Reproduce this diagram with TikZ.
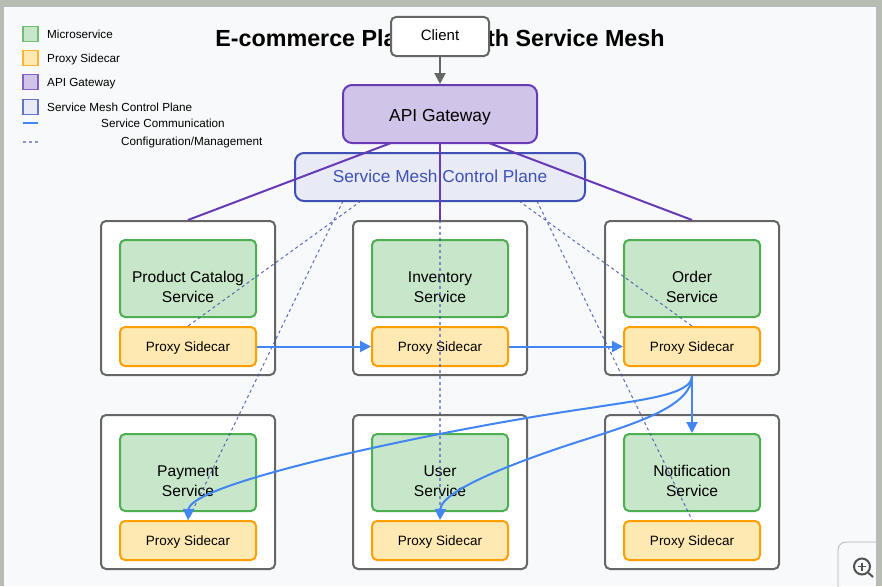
\documentclass[tikz,border=0pt]{standalone}
\usepackage{fontspec}
\setmainfont{Liberation Sans}
\usetikzlibrary{arrows.meta}

\definecolor{frame}{HTML}{B8BDB3}
\definecolor{page}{HTML}{F8F9FA}
\definecolor{edge}{HTML}{666666}
\definecolor{micro}{HTML}{C8E6C9}
\definecolor{microedge}{HTML}{4CAF50}
\definecolor{proxy}{HTML}{FFE9B3}
\definecolor{proxyedge}{HTML}{FFA000}
\definecolor{gate}{HTML}{D1C4E9}
\definecolor{gateedge}{HTML}{673AB7}
\definecolor{plane}{HTML}{E8EAF6}
\definecolor{planeedge}{HTML}{3F51B5}
\definecolor{comm}{HTML}{4285F4}

\newcommand{\svclabel}[2]{\mbox{}\\[8pt]#1\\#2}

\tikzset{
    box/.style={rounded corners=5pt, line width=2pt, inner sep=0pt, align=center, font=\fontsize{15.6}{20}\selectfont},
    podbox/.style={box, draw=edge, fill=white, minimum width=174pt, minimum height=154pt},
    microbox/.style={box, draw=microedge, fill=micro, minimum width=136pt, minimum height=77pt},
    proxybox/.style={box, draw=proxyedge, fill=proxy, minimum width=136pt, minimum height=39pt, text height=12pt, font=\fontsize{13.5}{16}\selectfont},
    swatch/.style={line width=1.4pt, minimum size=15pt, inner sep=0pt},
    legendtext/.style={anchor=west, inner sep=0pt, font=\fontsize{11.7}{14}\selectfont},
    commline/.style={comm, line width=2pt},
    commarrow/.style={commline, -{Triangle[length=11pt,width=11pt]}},
    gateline/.style={gateedge, line width=2pt},
    confline/.style={planeedge, line width=1pt, opacity=0.85, dash pattern=on 3pt off 3pt},
    confmid/.style={planeedge, line width=1.8pt, opacity=0.6, dash pattern=on 3pt off 3pt}
}

\begin{document}
\begin{tikzpicture}[x=1pt, y=-1pt]
    \useasboundingbox (0,0) rectangle (882,586);
    \fill[frame] (0,0) rectangle (882,586);
    \fill[page] (4,7) rectangle (876,586);

    \node[inner sep=0pt, font=\bfseries\fontsize{23.3}{28}\selectfont] (title) at (440,38) {E-commerce Platform with Service Mesh};

    % legend
    \node[swatch, draw=microedge!80, fill=micro] (keymicro) at (30.5,34) {};
    \node[legendtext] (keymicrotext) at (47,34.5) {Microservice};
    \node[swatch, draw=proxyedge!80, fill=proxy] (keyproxy) at (30.5,58) {};
    \node[legendtext] (keyproxytext) at (47,59.5) {Proxy Sidecar};
    \node[swatch, draw=gateedge!80, fill=gate] (keygate) at (30.5,82) {};
    \node[legendtext] (keygatetext) at (47,83.5) {API Gateway};
    \node[swatch, draw=planeedge!80, fill=plane] (keyplane) at (30.5,107) {};
    \node[legendtext] (keyplanetext) at (47,107) {Service Mesh Control Plane};
    \coordinate (keycommA) at (23,123);
    \coordinate (keycommB) at (38,123);
    \draw[commline] (keycommA) -- (keycommB);
    \node[legendtext] (keycommtext) at (101,123) {Service Communication};
    \coordinate (keyconfA) at (23,142);
    \coordinate (keyconfB) at (38,142);
    \draw[confmid] (keyconfA) -- (keyconfB);
    \node[legendtext] (keyconftext) at (121,142.5) {Configuration/Management};

    % top
    \node[box, draw=edge, fill=white, minimum width=98pt, minimum height=39pt, text depth=2pt, font=\fontsize{15}{18}\selectfont] (client) at (440,36.5) {Client};
    \node[box, draw=gateedge, fill=gate, minimum width=194pt, minimum height=58pt, rounded corners=9pt, text height=19pt, font=\fontsize{17.4}{22}\selectfont] (gateway) at (440,114) {API Gateway};
    \node[box, draw=planeedge, fill=plane, text=planeedge, minimum width=290pt, minimum height=48pt, rounded corners=9pt, text depth=2pt, font=\fontsize{17.3}{20}\selectfont] (meshplane) at (440,177) {Service Mesh Control Plane};

    % services
    \node[podbox] (podcatalog) at (188,298) {};
    \node[microbox] (catalog) at (188,278.5) {\svclabel{Product Catalog}{Service}};
    \node[proxybox] (catalogproxy) at (188,346.5) {Proxy Sidecar};
    \node[podbox] (podinventory) at (440,298) {};
    \node[microbox] (inventory) at (440,278.5) {\svclabel{Inventory}{Service}};
    \node[proxybox] (inventoryproxy) at (440,346.5) {Proxy Sidecar};
    \node[podbox] (podorder) at (692,298) {};
    \node[microbox] (order) at (692,278.5) {\svclabel{Order}{Service}};
    \node[proxybox] (orderproxy) at (692,346.5) {Proxy Sidecar};
    \node[podbox] (podpayment) at (188,492) {};
    \node[microbox] (payment) at (188,472.5) {\svclabel{Payment}{Service}};
    \node[proxybox] (paymentproxy) at (188,540.5) {Proxy Sidecar};
    \node[podbox] (poduser) at (440,492) {};
    \node[microbox] (user) at (440,472.5) {\svclabel{User}{Service}};
    \node[proxybox] (userproxy) at (440,540.5) {Proxy Sidecar};
    \node[podbox] (podnotify) at (692,492) {};
    \node[microbox] (notify) at (692,472.5) {\svclabel{Notification}{Service}};
    \node[proxybox] (notifyproxy) at (692,540.5) {Proxy Sidecar};

    % configuration
    \coordinate (planeA) at (343,201);
    \coordinate (planeB) at (361,201);
    \coordinate (planeC) at (519,201);
    \coordinate (planeD) at (537,201);
    \draw[confline] (planeB) -- (catalogproxy.north);
    \draw[confline] (planeA) -- (paymentproxy.north);
    \draw[confmid] (meshplane.south) -- (userproxy.north);
    \draw[confline] (planeC) -- (orderproxy.north);
    \draw[confline] (planeD) -- (notifyproxy.north);

    % gateway to services
    \coordinate (gateA) at (391,143);
    \coordinate (gateB) at (489,143);
    \draw[gateline] (gateA) -- (podcatalog.north);
    \draw[gateline] (gateway.south) -- (podinventory.north);
    \draw[gateline] (gateB) -- (podorder.north);
    \draw[edge, line width=2pt, -{Triangle[length=11pt,width=11pt]}] (client.south) -- (gateway.north);

    % communication
    \draw[commarrow] (catalogproxy.east) -- (inventoryproxy.west);
    \draw[commarrow] (inventoryproxy.east) -- (orderproxy.west);
    \draw[commarrow] (podorder.south) -- (notify.north);
    \draw[commarrow] (podorder.south) .. controls (692,395) and (640,400) .. (590,408) .. controls (450,428) and (190,482) .. (paymentproxy.north);
    \draw[commarrow] (podorder.south) .. controls (692,405) and (640,422) .. (590,438) .. controls (520,460) and (441,490) .. (userproxy.north);

    % zoom button
    \draw[gray!60, fill=page, rounded corners=8pt, line width=0.8pt] (876,542) -- (838,542) -- (838,590);
    \node[circle, draw=edge!80!black, line width=2pt, minimum size=16pt, inner sep=0pt] (zoomlens) at (862,566.5) {};
    \coordinate (zoomend) at (873,577);
    \draw[edge!80!black, line width=2pt] (zoomlens.south east) -- (zoomend);
    \draw[edge!80!black, line width=1.6pt] (zoomlens.center) +(-4,0) -- +(4,0);
    \draw[edge!80!black, line width=1.6pt] (zoomlens.center) +(0,-4) -- +(0,4);
\end{tikzpicture}
\end{document}
